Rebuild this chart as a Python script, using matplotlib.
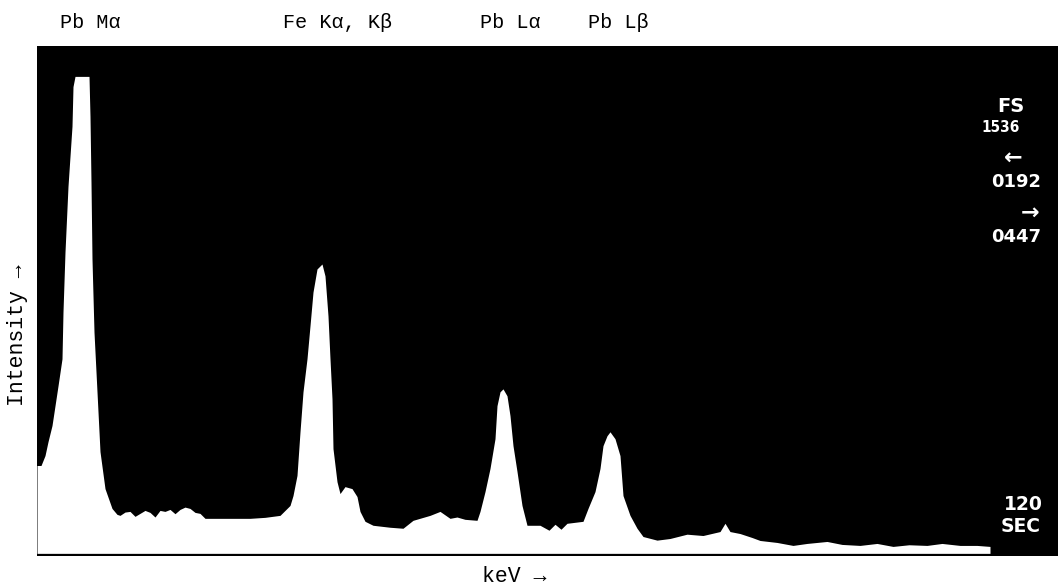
import matplotlib
matplotlib.use("Agg")
import matplotlib.pyplot as plt

W, H = 1058, 588

channel = [
    0, 4, 8, 11, 15, 18, 21, 25, 26, 28,
    31, 35, 36, 38, 52, 53, 54, 55, 57, 60,
    63, 68, 75, 80, 83, 88, 93, 98, 103, 108,
    113, 118, 123, 128, 133, 138, 143, 148, 153, 158,
    163, 168, 178, 193, 213, 228, 243, 253, 256, 260,
    263, 266, 270, 273, 276, 280, 285, 288, 291, 293,
    295, 296, 300, 303, 308, 315, 320, 323, 328, 336,
    353, 366, 376, 393, 403, 413, 420, 428, 440, 443,
    448, 453, 458, 460, 463, 466, 470, 473, 476, 480,
    485, 490, 503, 512, 518, 524, 530, 546, 551, 558,
    563, 566, 570, 573, 578, 583, 586, 593, 600, 606,
    620, 633, 650, 666, 683, 688, 693, 703, 715, 723,
    740, 756, 770, 790, 805, 823, 840, 856, 872, 890,
    905, 923, 940, 953]
counts = [
    266, 266, 296, 338, 387, 447, 507, 589, 731, 912,
    1111, 1293, 1413, 1444, 1444, 1323, 1123, 891, 670, 489,
    308, 196, 136, 118, 115, 125, 127, 112, 121, 130,
    124, 110, 130, 127, 133, 120, 133, 140, 136, 124,
    121, 106, 106, 106, 106, 109, 115, 145, 175, 236,
    368, 489, 589, 689, 791, 861, 876, 840, 719, 589,
    468, 317, 217, 181, 202, 196, 172, 127, 97, 85,
    79, 76, 100, 115, 127, 106, 110, 103, 100, 127,
    187, 257, 347, 447, 489, 498, 477, 417, 326, 248,
    145, 85, 85, 70, 88, 73, 91, 97, 136, 187,
    257, 326, 356, 368, 347, 296, 175, 115, 76, 51,
    40, 45, 58, 54, 66, 91, 66, 60, 48, 39,
    33, 24, 30, 36, 27, 24, 30, 21, 26, 24,
    30, 24, 24, 21]

peak_labels = ["Pb M\u03b1", "Fe K\u03b1, K\u03b2", "Pb L\u03b1", "Pb L\u03b2"]
peak_label_x = [60, 283, 480, 588]

readout = ["FS", "1536", "\u2190", "0192", "\u2192", "0447", "120", "SEC"]

fig = plt.figure(figsize=(W / 100, H / 100), dpi=100)
fig.patch.set_facecolor("white")

left, top, right, bottom = 37, 46, 1058, 556
ax = fig.add_axes([left / W, 1 - bottom / H, (right - left) / W, (bottom - top) / H])
ax.set_facecolor("black")
ax.fill_between(channel, counts, 0, color="white", lw=0)
ax.set_xlim(0, right - left)
ax.set_ylim(-8, 1536)
ax.set_xticks([])
ax.set_yticks([])
for s in ax.spines.values():
    s.set_visible(False)


def ftext(x, y, s, **kw):
    fig.text(x / W, 1 - y / H, s, **kw)


mono = dict(family="Liberation Mono", color="black")
for lab, x in zip(peak_labels, peak_label_x):
    ftext(x, 22, lab, fontsize=14.5, ha="left", va="center", **mono)

ftext(18, 335, "Intensity \u2192", fontsize=15.5, rotation=90, ha="center", va="center", **mono)
ftext(514, 577, "keV \u2192", fontsize=15.5, ha="center", va="center", **mono)

# instrument readout on the right edge of the screen
wb = dict(color="white", fontweight="bold", family="DejaVu Sans", ha="center", va="center")
ftext(1011, 107, readout[0], fontsize=14, **wb)
ftext(1001, 128, readout[1], fontsize=11, stretch="condensed", **wb)
ftext(1013, 158, readout[2], fontsize=16, **wb)
ftext(1016, 182, readout[3], fontsize=13, **wb)
ftext(1030, 213, readout[4], fontsize=16, **wb)
ftext(1016, 237, readout[5], fontsize=13, **wb)
ftext(1023, 505, readout[6], fontsize=13.5, **wb)
ftext(1021, 527, readout[7], fontsize=13.5, **wb)

fig.savefig("out.png", dpi=100, facecolor="white")
